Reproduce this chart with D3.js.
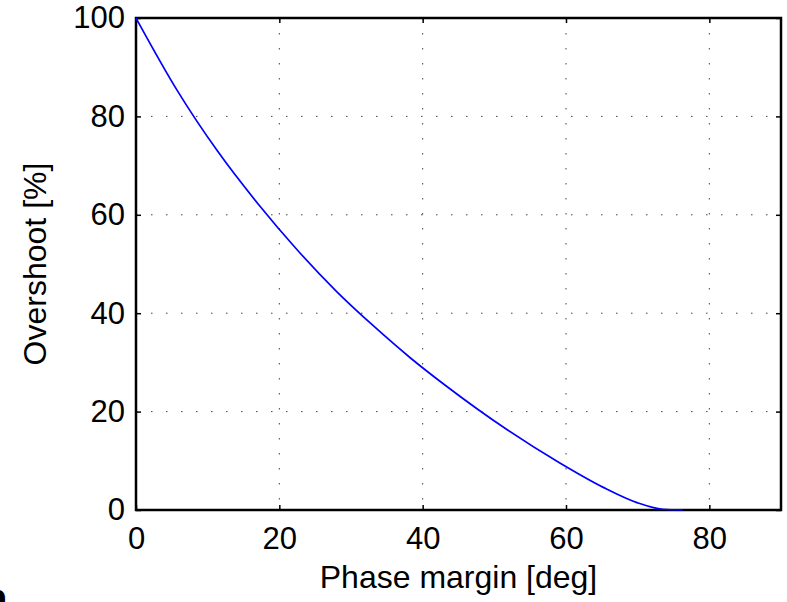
<!DOCTYPE html>
<html>
<head>
<meta charset="utf-8">
<script src="https://cdn.jsdelivr.net/npm/d3@7"></script>
<style>
  body { margin: 0; background: #fff; }
  svg text { font-family: "Liberation Sans", Arial, Helvetica, sans-serif; fill: #000; }
</style>
</head>
<body>
<div id="chart"></div>
<script>
// phase margin [deg] vs overshoot [%]
const phaseMargin = [0, 5.7, 11.4, 17.1, 22.6, 28.0, 33.3, 38.3, 43.1, 51.8, 59.2, 65.2, 69.9, 73.5, 76.3];
const overshoot = [100, 85.4, 72.9, 62.1, 52.7, 44.4, 37.2, 30.9, 25.4, 16.3, 9.5, 4.6, 1.5, 0.15, 0];
const xTicks = [0, 20, 40, 60, 80];
const yTicks = [0, 20, 40, 60, 80, 100];

const dimensions = {
  width: 787,
  height: 602,
  margin: { top: 18, right: 6, bottom: 92, left: 136 },
};
dimensions.ctrWidth = dimensions.width - dimensions.margin.left - dimensions.margin.right;
dimensions.ctrHeight = dimensions.height - dimensions.margin.top - dimensions.margin.bottom;

const svg = d3.select('#chart')
  .append('svg')
  .attr('width', dimensions.width)
  .attr('height', dimensions.height);

const ctr = svg.append('g')
  .attr('transform', `translate(${dimensions.margin.left}, ${dimensions.margin.top})`);

const xScale = d3.scaleLinear().domain([0, 90]).range([0, dimensions.ctrWidth]);
const yScale = d3.scaleLinear().domain([0, 100]).range([dimensions.ctrHeight, 0]);

// dotted grid
ctr.append('g')
  .selectAll('line')
  .data(xTicks.slice(1))
  .join('line')
  .attr('x1', d => xScale(d)).attr('x2', d => xScale(d))
  .attr('y1', 0).attr('y2', dimensions.ctrHeight)
  .attr('stroke', '#444').attr('stroke-width', 1)
  .attr('stroke-dasharray', '1.5,13.5');

ctr.append('g')
  .selectAll('line')
  .data(yTicks.slice(1, -1))
  .join('line')
  .attr('y1', d => yScale(d)).attr('y2', d => yScale(d))
  .attr('x1', 0).attr('x2', dimensions.ctrWidth)
  .attr('stroke', '#444').attr('stroke-width', 1)
  .attr('stroke-dasharray', '1.5,13.5');

// axes, ticks pointing inward like matlab
const fs = 31;
const xAxis = d3.axisBottom(xScale).tickValues(xTicks).tickSize(-5).tickPadding(17);
const yAxis = d3.axisLeft(yScale).tickValues(yTicks).tickSize(-5).tickPadding(11);

const xAxisGroup = ctr.append('g')
  .attr('transform', `translate(0, ${dimensions.ctrHeight})`)
  .call(xAxis);
const yAxisGroup = ctr.append('g').call(yAxis);

// mirrored ticks on top and right
ctr.append('g')
  .call(d3.axisTop(xScale).tickValues(xTicks).tickSize(-5).tickFormat(''));
ctr.append('g')
  .attr('transform', `translate(${dimensions.ctrWidth}, 0)`)
  .call(d3.axisRight(yScale).tickValues(yTicks).tickSize(-5).tickFormat(''));

ctr.selectAll('.domain').remove();
ctr.selectAll('.tick line').attr('stroke', '#000').attr('stroke-width', 1.5);
ctr.selectAll('.tick text').style('font-size', fs + 'px');

// box
ctr.append('rect')
  .attr('width', dimensions.ctrWidth)
  .attr('height', dimensions.ctrHeight)
  .attr('fill', 'none')
  .attr('stroke', '#000')
  .attr('stroke-width', 2.5);

// curve
const line = d3.line()
  .x((d, i) => xScale(phaseMargin[i]))
  .y(d => yScale(d))
  .curve(d3.curveMonotoneX);

ctr.append('path')
  .datum(overshoot)
  .attr('d', line)
  .attr('fill', 'none')
  .attr('stroke', '#0000ff')
  .attr('stroke-width', 1.7);

// labels
xAxisGroup.append('text')
  .attr('x', dimensions.ctrWidth / 2)
  .attr('y', 78)
  .attr('text-anchor', 'middle')
  .style('font-size', '32px')
  .text('Phase margin [deg]');

yAxisGroup.append('text')
  .attr('transform', 'rotate(-90)')
  .attr('x', -dimensions.ctrHeight / 2)
  .attr('y', -90)
  .attr('text-anchor', 'middle')
  .style('font-size', '32px')
  .text('Overshoot [%]');

// cropped letter at lower left edge
svg.append('text')
  .attr('x', -17)
  .attr('y', 612)
  .style('font-size', '40px')
  .style('font-weight', 'bold')
  .text('n');
</script>
</body>
</html>
